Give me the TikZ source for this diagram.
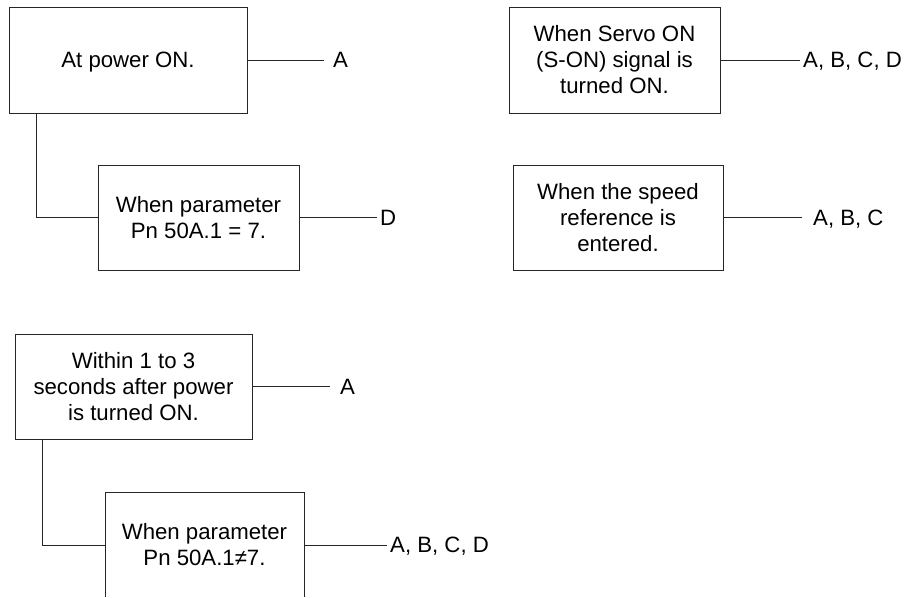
\documentclass[tikz,border=0pt]{standalone}
\usepackage{fontspec}
\setmainfont{Liberation Sans}
\colorlet{linecolor}{black!85}
\tikzset{
    condbox/.style={draw=linecolor, line width=0.9pt, inner sep=0pt, align=center,
        font=\fontsize{22.2}{26}\selectfont},
    outlabel/.style={anchor=west, inner sep=0pt, text depth=0pt,
        font=\fontsize{22.2}{26}\selectfont},
    wire/.style={draw=linecolor, line width=0.9pt}
}

\begin{document}
\begin{tikzpicture}[x=1pt, y=-1pt]
    \useasboundingbox (0,0) rectangle (904,597);
    \clip (0,0) rectangle (904,596);
    % --- Left column, top group ---
    \node[condbox, text depth=0pt, minimum width=238, minimum height=106] (pwron) at (128,60) {At power ON.};
    \node[condbox, minimum width=201, minimum height=105] (parmeq) at (198.5,217.5) {When parameter\\Pn 50A.1 = 7.};
    \node[outlabel] (pwronout) at (333,60) {A};
    \node[outlabel] (parmeqout) at (380,217.5) {D};
    \draw[wire] (pwron.east) -- ([xshift=-9]pwron.east -| pwronout.west);
    \draw[wire] (parmeq.east) -- ([xshift=-3]parmeq.east -| parmeqout.west);
    \draw[wire] ([xshift=28]pwron.south west) |- (parmeq.west);
    % --- Right column ---
    \node[condbox, minimum width=211, minimum height=106] (servo) at (614.5,60) {When Servo ON\\(S-ON) signal is\\turned ON.};
    \node[condbox, minimum width=210, minimum height=105] (speed) at (618,217.5) {When the speed\\reference is\\entered.};
    \node[outlabel] (servoout) at (803,60) {A, B, C, D};
    \node[outlabel] (speedout) at (813,217.5) {A, B, C};
    \draw[wire] (servo.east) -- ([xshift=-3]servo.east -| servoout.west);
    \draw[wire] (speed.east) -- ([xshift=-11]speed.east -| speedout.west);
    % --- Left column, bottom group ---
    \node[condbox, minimum width=237, minimum height=105] (delay) at (133.5,386.5) {Within 1 to 3\\seconds after power\\is turned ON.};
    \node[condbox, minimum width=199, minimum height=106] (parmne) at (204.5,545) {When parameter\\Pn 50A.1≠7.};
    \node[outlabel] (delayout) at (340,386.5) {A};
    \node[outlabel] (parmneout) at (390,545) {A, B, C, D};
    \draw[wire] (delay.east) -- ([xshift=-10]delay.east -| delayout.west);
    \draw[wire] (parmne.east) -- ([xshift=-3]parmne.east -| parmneout.west);
    \draw[wire] ([xshift=28]delay.south west) |- (parmne.west);
\end{tikzpicture}
\end{document}
